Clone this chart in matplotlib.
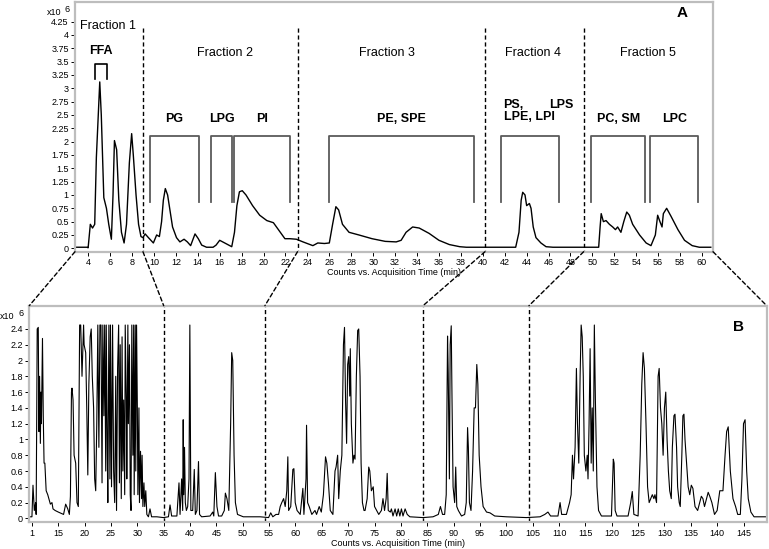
import matplotlib.pyplot as plt
from matplotlib.patches import ConnectionPatch

plt.rcParams['font.family'] = ['Liberation Sans', 'DejaVu Sans']

# ---- panel A: total ion chromatogram, 0-61 min (counts x10^6)
a_time = [2.8, 3.9, 4.0, 4.2, 4.4, 4.6, 4.75, 5.06, 5.2, 5.43, 5.67, 5.88, 6.12,
          6.27, 6.4, 6.6, 6.8, 7.04, 7.28, 7.5, 7.76, 7.97, 8.12, 8.37, 8.6, 8.82,
          9.0, 9.2, 9.5, 9.95, 10.25, 10.5, 10.7, 10.86, 11.04, 11.25, 11.47, 11.7,
          12.06, 12.37, 12.75, 13.05, 13.35, 13.75, 14.05, 14.36, 14.8, 15.4, 15.67,
          16.0, 16.45, 16.9, 17.1, 17.35, 17.57, 17.8, 18.06, 18.4, 19.0, 19.65,
          20.3, 20.9, 21.35, 21.95, 22.4, 23.0, 23.6, 24.5, 24.95, 25.55, 26.0,
          26.3, 26.6, 26.85, 27.2, 27.8, 28.7, 29.9, 31.1, 32.1, 32.55, 33.0, 33.6,
          34.2, 35.1, 36.0, 36.95, 37.9, 38.5, 39.7, 40.9, 43.0, 43.3, 43.5, 43.64,
          43.85, 44.0, 44.25, 44.4, 44.6, 44.85, 45.3, 45.77, 46.4, 48.8, 50.57,
          50.7, 50.8, 51.0, 51.24, 51.55, 51.85, 52.1, 52.3, 52.6, 52.86, 53.13,
          53.37, 53.67, 54.3, 54.9, 55.34, 55.74, 55.95, 56.16, 56.35, 56.47,
          56.77, 57.17, 57.8, 58.4, 59.1, 59.75, 60.8]
a_counts = [0.02, 0.02, 0.01, 0.45, 0.38, 0.45, 1.7, 3.12, 2.5, 0.95, 0.75, 0.45, 0.17,
            1.0, 2.02, 1.85, 0.9, 0.3, 0.1, 0.45, 1.6, 2.15, 1.75, 1.0, 0.45, 0.22,
            0.2, 0.27, 0.2, 0.1, 0.25, 0.22, 0.5, 0.9, 1.12, 1.0, 0.7, 0.4,
            0.2, 0.12, 0.17, 0.12, 0.05, 0.27, 0.18, 0.06, 0.02, 0.02, 0.06,
            0.15, 0.1, 0.05, 0.03, 0.3, 0.8, 1.06, 1.08, 1.0, 0.8, 0.62,
            0.52, 0.48, 0.35, 0.18, 0.18, 0.17, 0.12, 0.05, 0.1, 0.09, 0.1,
            0.45, 0.78, 0.72, 0.45, 0.3, 0.25, 0.18, 0.13, 0.12, 0.15, 0.3, 0.4,
            0.38, 0.28, 0.15, 0.07, 0.03, 0.02, 0.02, 0.02, 0.02, 0.3, 0.9, 1.05,
            1.0, 0.8, 0.84, 0.75, 0.4, 0.2, 0.1, 0.03, 0.02, 0.02, 0.02,
            0.4, 0.65, 0.5, 0.52, 0.45, 0.4, 0.35, 0.4, 0.3, 0.5, 0.68,
            0.62, 0.45, 0.25, 0.1, 0.05, 0.25, 0.62, 0.5, 0.4, 0.65,
            0.75, 0.6, 0.35, 0.15, 0.05, 0.02, 0.02]

# ---- panel B: second dimension chromatogram, 9.5-149 min (counts x10^6)
b_time = [9.5, 10.0, 10.2, 10.45, 10.7, 10.8, 11.0, 11.2, 11.33, 11.45, 11.6, 11.7,
          11.8, 12.0, 12.15, 12.3, 12.45, 12.7, 13.0, 13.2, 13.5, 13.8, 14.0, 14.4,
          15.0, 15.7, 16.0, 16.4, 16.8, 17.1, 17.3, 17.5, 17.6, 17.8, 18.0, 18.3,
          18.55, 18.8, 19.05, 19.25, 19.5, 19.8, 19.9, 20.2, 20.4, 20.6, 20.8,
          21.05, 21.25, 21.45, 21.7, 21.9, 22.1, 22.3, 22.5, 22.7, 22.9, 23.1,
          23.3, 23.45, 23.65, 23.8, 24.0, 24.1, 24.3, 24.4, 24.6, 24.8, 24.9,
          25.1, 25.3, 25.5, 25.7, 25.9, 26.05, 26.25, 26.45, 26.6, 26.75, 26.95,
          27.1, 27.25, 27.4, 27.6, 27.7, 27.9, 28.0, 28.2, 28.3, 28.5, 28.65,
          28.8, 28.95, 29.15, 29.3, 29.4, 29.6, 29.7, 29.85, 30.0, 30.1, 30.3,
          30.4, 30.6, 30.8, 30.9, 31.05, 31.25, 31.4, 31.6, 31.8, 32.1, 32.4,
          32.7, 33.7, 34.95, 35.9, 36.2, 36.5, 37.5, 37.9, 38.1, 38.4, 38.6,
          38.7, 38.8, 38.95, 39.1, 39.3, 39.55, 39.8, 39.96, 40.15, 40.5, 40.8,
          41.0, 41.3, 41.6, 41.8, 42.2, 43.8, 44.3, 44.5, 44.8, 45.1, 45.4,
          46.0, 46.5, 46.7, 47.0, 47.35, 47.7, 47.9, 48.1, 48.35, 48.6, 49.0,
          50.1, 53.3, 54.9, 55.3, 55.7, 56.3, 56.8, 57.1, 57.4, 57.75, 58.05,
          58.35, 58.55, 58.7, 59.1, 59.5, 59.7, 59.95, 60.3, 60.9, 61.4, 61.6,
          62.0, 62.1, 62.3, 62.6, 63.1, 63.7, 64.0, 64.5, 64.9, 65.3, 65.7,
          65.95, 66.25, 66.6, 67.1, 67.5, 67.7, 68.0, 68.2, 68.5, 68.8, 69.1,
          69.3, 69.5, 69.7, 69.9, 70.1, 70.3, 70.4, 70.6, 70.9, 71.1, 71.3,
          71.55, 71.8, 72.0, 72.25, 72.45, 72.7, 73.0, 73.2, 73.6, 73.9, 74.1,
          74.4, 74.75, 75.0, 75.4, 75.8, 76.3, 76.6, 76.9, 77.2, 77.4, 77.6,
          78.0, 78.2, 78.5, 78.9, 79.2, 79.5, 79.8, 80.1, 80.4, 80.8, 81.2,
          81.7, 84.2, 86.1, 87.1, 87.5, 87.9, 88.3, 88.6, 88.85, 88.98, 89.2,
          89.35, 89.55, 89.7, 89.9, 90.2, 90.4, 90.6, 90.9, 91.5, 92.1, 92.4,
          92.65, 92.8, 93.0, 93.3, 93.6, 93.9, 94.15, 94.4, 94.6, 94.85, 95.2,
          95.6, 96.25, 96.9, 97.8, 100.0, 103.8, 106.4, 107.3, 107.9, 108.4,
          109.8, 110.2, 110.5, 111.4, 112.0, 112.3, 112.55, 112.75, 113.05,
          113.3, 113.5, 113.75, 114.0, 114.2, 114.4, 114.6, 114.8, 115.1,
          115.35, 115.5, 115.7, 115.9, 116.1, 116.3, 116.5, 116.7, 116.9,
          117.2, 117.5, 118.05, 119.95, 120.3, 120.45, 120.65, 121.0, 123.1,
          123.6, 123.9, 124.2, 125.0, 125.4, 125.7, 125.95, 126.2, 126.5,
          126.8, 127.1, 127.4, 127.7, 128.0, 128.2, 128.5, 128.8, 129.0,
          129.25, 129.5, 129.75, 130.0, 130.25, 130.5, 130.75, 131.0, 131.3,
          131.5, 131.8, 132.0, 132.3, 132.5, 132.8, 133.0, 133.3, 133.5,
          133.7, 133.9, 134.2, 134.5, 134.8, 135.1, 135.4, 135.8, 136.3,
          136.7, 137.0, 137.3, 137.6, 138.0, 138.3, 138.6, 139.0, 139.5,
          140.0, 140.5, 141.1, 141.5, 141.8, 142.1, 142.5, 143.0, 143.5,
          143.9, 144.4, 144.7, 145.0, 145.3, 145.6, 145.9, 146.4, 147.0, 149.2]
b_counts = [0.02, 0.02, 0.42, 0.1, 0.2, 0.05, 2.4, 2.42, 1.1, 1.8, 0.95, 1.6,
            1.2, 2.28, 1.3, 0.7, 0.7, 0.35, 0.3, 0.25, 0.18, 0.2, 0.12, 0.1,
            0.08, 0.06, 0.05, 0.18, 0.12, 0.05, 0.28, 1.6, 1.65, 1.5, 0.8, 0.7,
            0.2, 0.15, 2.45, 2.45, 1.8, 2.45, 2.2, 2.1, 1.4, 0.55, 1.7,
            2.3, 2.4, 1.8, 1.4, 0.5, 0.35, 1.2, 2.45, 0.9, 2.45, 2.45,
            0.45, 2.45, 1.3, 2.45, 0.6, 2.45, 0.8, 0.2, 2.45, 0.5, 2.45,
            0.4, 2.45, 0.6, 0.2, 1.8, 0.1, 1.9, 2.45, 0.45, 2.2, 0.25,
            2.3, 0.6, 1.5, 0.3, 2.45, 1.5, 0.5, 2.45, 1.2, 2.2, 0.3,
            0.1, 2.45, 0.8, 2.45, 0.3, 2.45, 0.6, 2.45, 1.4, 0.3, 1.4,
            0.2, 0.85, 0.25, 0.8, 0.15, 0.45, 0.15, 0.35, 0.05, 0.02, 0.12,
            0.02, 0.02, 0.01, 0.02, 0.17, 0.03, 0.03, 0.45, 0.05, 0.5, 0.1,
            1.25, 0.3, 0.9, 0.2, 0.1, 0.15, 0.5, 2.45, 0.1, 0.1, 0.62,
            0.05, 0.1, 0.72, 0.05, 0.02, 0.03, 0.08, 0.03, 0.58, 0.15, 0.03,
            0.03, 0.1, 0.32, 0.25, 0.1, 1.2, 2.1, 2.0, 0.8, 0.2, 0.05,
            0.02, 0.02, 0.01, 0.07, 0.02, 0.05, 0.05, 0.15, 0.2, 0.25, 0.15,
            0.35, 0.78, 0.1, 0.15, 0.62, 0.63, 0.2, 0.1, 0.05, 0.38, 0.05,
            0.5, 1.18, 0.2, 0.15, 0.05, 0.1, 0.05, 0.15, 0.08, 0.3, 0.78,
            0.7, 0.45, 0.1, 0.05, 0.6, 0.65, 0.8, 0.25, 0.6, 0.8, 2.2,
            2.42, 1.5, 0.95, 1.95, 2.05, 1.55, 2.15, 1.2, 0.7, 0.8, 0.75,
            1.8, 2.38, 2.4, 1.8, 0.7, 0.2, 0.1, 0.1, 0.25, 0.65, 0.6,
            0.35, 0.4, 0.15, 0.1, 0.05, 0.1, 0.25, 0.1, 0.25, 0.57, 0.1,
            0.08, 0.12, 0.03, 0.12, 0.03, 0.12, 0.03, 0.12, 0.03, 0.12, 0.05,
            0.02, 0.01, 0.02, 0.05, 0.15, 0.05, 0.05, 0.3, 2.31, 1.84, 0.5,
            2.2, 2.44, 1.5, 0.4, 0.2, 0.65, 0.15, 0.1, 0.03, 0.05, 0.2,
            1.15, 0.9, 0.2, 0.1, 0.6, 1.4, 1.4, 1.95, 1.7, 0.8, 0.4,
            0.15, 0.08, 0.07, 0.03, 0.02, 0.01, 0.02, 0.05, 0.08, 0.03,
            0.03, 0.2, 0.05, 0.05, 0.2, 0.3, 0.8, 0.5, 0.9,
            1.9, 1.2, 0.7, 1.8, 2.45, 2.3, 1.8, 0.8, 0.6,
            0.8, 0.5, 1.2, 2.15, 0.7, 1.4, 0.6, 2.45, 1.5,
            0.4, 0.1, 0.03, 0.03, 0.75, 0.7, 0.1, 0.03, 0.03,
            0.2, 0.34, 0.05, 0.03, 0.8, 1.7, 2.1, 1.9, 1.2,
            0.4, 0.2, 0.25, 0.3, 0.25, 0.3, 0.2, 1.8, 1.9,
            1.4, 1.2, 0.8, 1.4, 1.6, 1.0, 0.6, 0.35, 0.25,
            0.9, 1.3, 1.32, 0.9, 0.4, 0.2, 0.15, 0.8, 1.3,
            1.32, 1.0, 0.7, 0.4, 0.3, 0.42, 0.38, 0.15, 0.1,
            0.2, 0.28, 0.25, 0.15, 0.25, 0.33, 0.28, 0.2, 0.05,
            0.1, 0.35, 0.35, 0.8, 1.1, 1.16, 0.6, 0.25, 0.15,
            0.05, 0.05, 0.5, 1.2, 1.25, 0.6, 0.25, 0.08, 0.02, 0.02]

# fraction boundaries: in A and where they map to in B
cut_a = [9.0, 23.1, 40.2, 49.2]
cut_b = [35.0, 54.2, 84.2, 104.3]

# fraction titles (x centre in A, minutes)
fractions = ['Fraction 1', 'Fraction 2', 'Fraction 3', 'Fraction 4', 'Fraction 5']
fraction_x = [5.8, 16.5, 31.3, 44.6, 55.1]

# lipid class brackets: label, start, end (min)
classes = ['PG', 'LPG', 'PI', 'PE, SPE', 'PS', 'PC, SM', 'LPC']
class_start = [9.62, 15.25, 17.3, 25.94, 41.69, 49.9, 55.28]
class_end = [14.12, 17.13, 22.45, 39.19, 46.91, 54.83, 59.63]

frame = '#bdbdbd'
tick_fs = 6.5

fig = plt.figure(figsize=(7.69, 5.49), dpi=100)
axA = fig.add_axes([0.0975, 0.5415, 0.8297, 0.455])
axB = fig.add_axes([0.0381, 0.0486, 0.9589, 0.3946])

for ax in (axA, axB):
    for s in ax.spines.values():
        s.set_color(frame)
        s.set_linewidth(1.6)
    ax.tick_params(labelsize=tick_fs, length=3, width=0.7, color='black', pad=1.5)

# --- panel A
axA.plot(a_time, a_counts, color='black', lw=1.0)
axA.set_xlim(2.8, 61)
axA.set_ylim(-0.064, 4.62)
axA.set_xticks(range(4, 61, 2))
yt = [i * 0.25 for i in range(18)]
axA.set_yticks(yt)
axA.set_yticklabels(['%g' % v for v in yt])
axA.set_xlabel('Counts vs. Acquisition Time (min)', fontsize=tick_fs, labelpad=1)

for x in cut_a:
    axA.plot([x, x], [4.13, -0.064], color='black', lw=1.0, ls=(0, (3, 2)), clip_on=False)

for name, x in zip(fractions, fraction_x):
    axA.text(x, 4.16 if name == 'Fraction 1' else 3.66, name, fontsize=9,
             ha='center', va='center')
axA.text(0.952, 0.955, 'A', transform=axA.transAxes, fontsize=11, fontweight='bold',
         ha='center', va='center')

# FFA bracket
axA.plot([4.67, 4.67, 5.68, 5.68], [3.18, 3.45, 3.45, 3.18], color='black', lw=1.2)
axA.text(5.2, 3.7, 'FFA', fontsize=9, fontweight='bold', ha='center', va='center')

for name, x0, x1 in zip(classes, class_start, class_end):
    axA.plot([x0, x0, x1, x1], [0.86, 2.11, 2.11, 0.86], color='#5a5a5a', lw=1.3)
    if name == 'PS':
        axA.text(x0 + 0.2, 2.68, 'PS,', fontsize=9, fontweight='bold',
                 ha='left', va='center')
        axA.text(x0 + 0.2, 2.47, 'LPE, LPI', fontsize=9, fontweight='bold',
                 ha='left', va='center')
        axA.text(47.2, 2.68, 'LPS', fontsize=9, fontweight='bold',
                 ha='center', va='center')
    else:
        axA.text((x0 + x1) / 2, 2.42, name, fontsize=9, fontweight='bold',
                 ha='center', va='center')

fig.text(0.061, 0.977, 'x10', fontsize=tick_fs, va='center')
fig.text(0.084, 0.983, '6', fontsize=tick_fs, va='center')

# --- panel B
axB.plot(b_time, b_counts, color='black', lw=0.8)
axB.set_xlim(9.5, 149.4)
axB.set_ylim(-0.05, 2.695)
axB.set_xticks(range(10, 146, 5))
axB.set_xticklabels(['1'] + [str(v) for v in range(15, 146, 5)])
yb = [i * 0.2 for i in range(13)]
axB.set_yticks(yb)
axB.set_yticklabels(['%g' % round(v, 1) for v in yb])
axB.set_xlabel('Counts vs. Acquisition Time (min)', fontsize=tick_fs, labelpad=1)
for x in cut_b:
    axB.axvline(x, color='black', lw=1.0, ls=(0, (3, 2)))
axB.text(0.962, 0.9, 'B', transform=axB.transAxes, fontsize=11, fontweight='bold',
         ha='center', va='center')
fig.text(0.0, 0.423, 'x10', fontsize=tick_fs, va='center')
fig.text(0.024, 0.429, '6', fontsize=tick_fs, va='center')

# zoom lines between the panels
dash = dict(color='black', lw=1.0, ls=(0, (3, 2)))
fig.add_artist(ConnectionPatch((0, 0), (0, 1), 'axes fraction', 'axes fraction',
                               axesA=axA, axesB=axB, **dash))
fig.add_artist(ConnectionPatch((1, 0), (1, 1), 'axes fraction', 'axes fraction',
                               axesA=axA, axesB=axB, **dash))
for xa, xb in zip(cut_a, cut_b):
    fig.add_artist(ConnectionPatch((xa, -0.064), (xb, 2.695), 'data', 'data',
                                   axesA=axA, axesB=axB, **dash))

fig.savefig('out.png', dpi=100)
